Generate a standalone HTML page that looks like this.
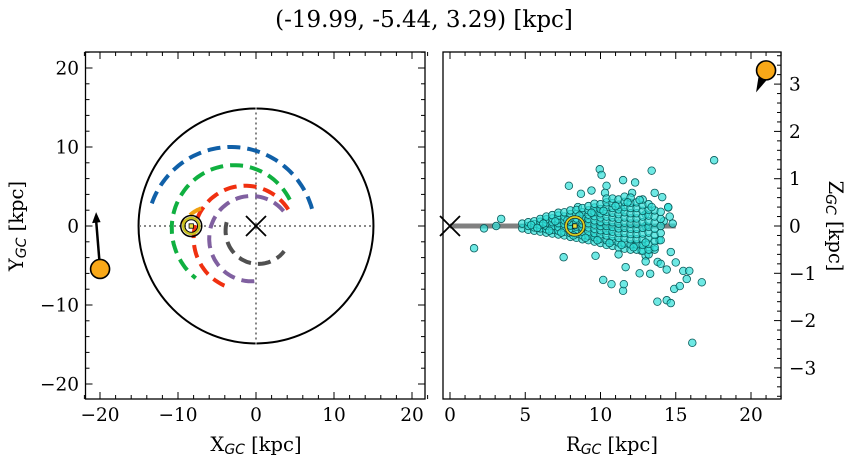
<!DOCTYPE html>
<html><head><meta charset="utf-8"><style>
html,body{margin:0;padding:0;background:#fff;}
svg{display:block;font-family:"DejaVu Serif","Liberation Serif",serif;}
</style></head><body>
<svg id="fig" width="854" height="464" viewBox="0 0 854 464" xmlns="http://www.w3.org/2000/svg">
<text x="424" y="27" font-size="23" text-anchor="middle">(-19.99, -5.44, 3.29) [kpc]</text>
<g id="left"></g>
<g id="right"></g>
</svg>
<script>
// ---- data ----
const leftTicks = [-20,-10,0,10,20];
const rightXTicks = [0,5,10,15,20];
const rightYTicks = [-3,-2,-1,0,1,2,3];
const sunXY = [-19.99,-5.44];
const sunArrowTip = [-20.5,1.5];
const gcSunX = -8.3;
const sunRZ = [21.0,3.29];
const solarR = 8.3;
const arcCx = [-3.2,-2.8,-1.4,-0.6,0.3,-5.5];
const arcCy = [-0.8,-0.3,-1.5,-1.6,-0.6,-2.0];
const arcR  = [10.8,8.0,6.6,5.4,4.2,4.5];
const arcA0 = [16,27,33,40,165,110];
const arcA1 = [163,232,253,282,322,150];
const arcColors = ["#1060a8","#10b040","#f03010","#8060a0","#505050","#f0a010"];
// scatter R, Z (outliers + halo)
const rVals = [17.55,9.95,10.07,13.4,7.9,11.5,12.3,9.4,8.7,10.4,13.6,14.1,14.5,3.4,2.26,3.07,1.6,7.55,9.67,10.18,10.73,11.5,11.67,11.55,12.6,13.3,13.78,14.4,14.67,14.9,15.27,15.73,16.73,16.1,14.4,15.0,15.5,15.9,13.8,13.0,13.3,13.6,12.7,14.67,13.9,14.5,14.8,12.8,13.2,13.0,
9.0,9.8,10.6,11.4,12.2,13.0,8.5,9.4,10.3,11.2,12.1,13.0,14.0,14.2,14.6];
const zVals = [1.39,1.2,1.08,1.17,0.85,0.97,0.92,0.75,0.68,0.85,0.70,0.61,0.39,0.15,-0.05,0.0,-0.47,-0.66,-0.63,-1.14,-1.23,-1.37,-0.87,-1.23,-1.0,-1.01,-1.6,-1.57,-1.63,-1.33,-1.27,-1.12,-1.19,-2.47,-0.92,-0.77,-0.95,-0.95,-0.76,-0.63,-0.5,-0.5,-0.52,-0.55,-0.3,0.4,0.05,-0.4,-0.6,-0.75,
0.1,0.3,-0.1,0.35,-0.4,0.25,0.4,-0.2,0.7,-0.6,0.7,0.0,-0.8,0.1,0.2];
// dense core R, Z
const coreR = [4.8,4.8,5.2,5.2,5.2,5.6,5.6,5.6,5.6,6.0,6.0,6.0,6.0,6.0,
6.4,6.4,6.4,6.4,6.4,6.4,6.8,6.8,6.8,6.8,6.8,6.8,7.2,7.2,7.2,7.2,7.2,7.2,7.2,
7.6,7.6,7.6,7.6,7.6,7.6,7.6,8.0,8.0,8.0,8.0,8.0,8.0,8.0,8.0,
8.4,8.4,8.4,8.4,8.4,8.4,8.4,8.4,8.8,8.8,8.8,8.8,8.8,8.8,8.8,8.8,8.8,
9.2,9.2,9.2,9.2,9.2,9.2,9.2,9.2,9.2,9.6,9.6,9.6,9.6,9.6,9.6,9.6,9.6,9.6,9.6,
10.0,10.0,10.0,10.0,10.0,10.0,10.0,10.0,10.0,10.0,10.4,10.4,10.4,10.4,10.4,10.4,10.4,10.4,10.4,10.4,10.4,
10.8,10.8,10.8,10.8,10.8,10.8,10.8,10.8,10.8,10.8,10.8,11.2,11.2,11.2,11.2,11.2,11.2,11.2,11.2,11.2,11.2,11.2,
11.6,11.6,11.6,11.6,11.6,11.6,11.6,11.6,11.6,11.6,11.6,12.0,12.0,12.0,12.0,12.0,12.0,12.0,12.0,12.0,12.0,12.0,
12.4,12.4,12.4,12.4,12.4,12.4,12.4,12.4,12.4,12.4,12.8,12.8,12.8,12.8,12.8,12.8,12.8,12.8,12.8,12.8,
13.2,13.2,13.2,13.2,13.2,13.2,13.2,13.2,13.2,13.6,13.6,13.6,13.6,13.6,13.6,13.6,14.0,14.0,14.0,14.0,14.0,
5.4,5.8,6.2,6.6,7.0,7.4,7.8,8.2,8.6,9.0,9.4,9.8,10.2,10.6,11.0,11.4,11.8,12.2,12.6,13.0,13.4];
const coreZ = [-0.05,0.05,-0.08,0.0,0.08,-0.1,-0.03,0.04,0.1,-0.12,-0.05,0.02,0.09,0.15,
-0.14,-0.07,0.0,0.07,0.14,0.2,-0.16,-0.08,0.0,0.08,0.16,0.23,-0.18,-0.1,-0.02,0.06,0.14,0.22,0.28,
-0.2,-0.12,-0.04,0.04,0.12,0.2,0.29,-0.23,-0.15,-0.07,0.01,0.09,0.17,0.25,0.33,
-0.25,-0.17,-0.09,-0.01,0.08,0.16,0.25,0.34,-0.28,-0.2,-0.12,-0.04,0.04,0.12,0.2,0.29,0.38,
-0.3,-0.21,-0.12,-0.03,0.06,0.15,0.24,0.33,0.42,-0.33,-0.24,-0.15,-0.06,0.03,0.12,0.21,0.3,0.39,0.47,
-0.36,-0.27,-0.18,-0.09,0.0,0.09,0.18,0.27,0.36,0.46,-0.4,-0.3,-0.2,-0.1,0.0,0.1,0.2,0.3,0.4,0.5,0.58,
-0.42,-0.32,-0.22,-0.12,-0.02,0.08,0.18,0.28,0.38,0.48,0.58,-0.45,-0.35,-0.25,-0.15,-0.05,0.05,0.15,0.25,0.35,0.45,0.56,
-0.48,-0.37,-0.26,-0.15,-0.04,0.07,0.18,0.29,0.4,0.51,0.62,-0.5,-0.39,-0.28,-0.17,-0.06,0.05,0.16,0.27,0.38,0.49,0.6,
-0.5,-0.39,-0.28,-0.17,-0.06,0.05,0.16,0.27,0.38,0.5,-0.52,-0.4,-0.28,-0.16,-0.04,0.08,0.2,0.32,0.44,0.56,
-0.5,-0.38,-0.26,-0.14,-0.02,0.1,0.22,0.34,0.46,-0.45,-0.32,-0.19,-0.06,0.07,0.2,0.33,-0.3,-0.15,0.0,0.15,0.3,
0.02,-0.04,0.05,-0.1,0.1,-0.14,0.12,-0.2,0.22,-0.25,0.28,-0.3,0.32,-0.36,0.42,-0.4,0.5,-0.45,0.55,-0.35,0.4];

const NS="http://www.w3.org/2000/svg";
function mk(parent,tag,attrs){const e=document.createElementNS(NS,tag);for(const k in attrs)e.setAttribute(k,attrs[k]);parent.appendChild(e);return e;}

// ---- left panel ----
const L={x0:85.5,x1:425,y0:52,y1:399};
const lx=v=>256+v*7.8, ly=v=>226-v*7.9;
const gl=document.getElementById('left');
const gc=mk(gl,'circle',{cx:lx(0),cy:ly(0),r:15*7.83,fill:'none',stroke:'#000','stroke-width':2});


const hl=mk(gl,'line',{x1:lx(-15),x2:lx(15),y1:ly(0),y2:ly(0),stroke:'#777','stroke-width':1.8,'stroke-dasharray':'2 3'});


const vl=mk(gl,'line',{x1:lx(0),x2:lx(0),y1:ly(15),y2:ly(-15),stroke:'#777','stroke-width':1.8,'stroke-dasharray':'2 3'});


for(let i=0;i<arcR.length;i++){
  let d='';const n=60;
  for(let k=0;k<=n;k++){const a=(arcA0[i]+(arcA1[i]-arcA0[i])*k/n)*Math.PI/180;
    const px=lx(arcCx[i]+arcR[i]*Math.cos(a)),py=ly(arcCy[i]+arcR[i]*Math.sin(a));d+=(k?'L':'M')+px.toFixed(1)+' '+py.toFixed(1);}
  const p=mk(gl,'path',{d:d,fill:'none',stroke:arcColors[i],'stroke-width':4,'stroke-dasharray':'13 7'});
  
  
}
function cross(g,x,y,s,name){const c=mk(g,'path',{d:`M${x-s} ${y-s}L${x+s} ${y+s}M${x-s} ${y+s}L${x+s} ${y-s}`,stroke:'#000','stroke-width':1.8});

}
cross(gl,lx(0),ly(0),10,'galactic-center-marker');
function sunMark(g,x,y,name,outer){const s=mk(g,'g',{});


if(outer){mk(s,'circle',{cx:x,cy:y,r:10.5,fill:'none',stroke:'#000','stroke-width':1.5});
mk(s,'circle',{cx:x,cy:y,r:8,fill:'none',stroke:'#c8c020','stroke-width':2.5});
mk(s,'circle',{cx:x,cy:y,r:6.3,fill:'none',stroke:'#000','stroke-width':1});}
else{mk(s,'circle',{cx:x,cy:y,r:9,fill:'none',stroke:'#222','stroke-width':3.2});
mk(s,'circle',{cx:x,cy:y,r:9,fill:'none',stroke:'#d8d020','stroke-width':1.8});}
mk(s,'rect',{x:x-2.2,y:y-2.2,width:4.4,height:4.4,fill:'#e8e040',stroke:'#000','stroke-width':0.8});}
sunMark(gl,lx(gcSunX),ly(0),'sun-marker-xy',true);
const ar=mk(gl,'g',{});


const ax0=lx(sunXY[0]),ay0=ly(sunXY[1]),ax1=lx(sunArrowTip[0]),ay1=ly(sunArrowTip[1]);
mk(ar,'line',{x1:ax0,y1:ay0,x2:ax1,y2:ay1+6,stroke:'#000','stroke-width':2.5});
mk(ar,'path',{d:`M${ax1} ${ay1-2}L${ax1-4} ${ay1+9}L${ax1+4.5} ${ay1+8}Z`,fill:'#000'});
const so=mk(gl,'circle',{cx:ax0,cy:ay0,r:9.5,fill:'#f8a818',stroke:'#000','stroke-width':1.6});



function frame(g,b,name){const r=mk(g,'rect',{x:b.x0,y:b.y0,width:b.x1-b.x0,height:b.y1-b.y0,fill:'none',stroke:'#000','stroke-width':1.3});

}
frame(gl,L,'xy-frame');
for(let v=-22;v<=22;v+=2){const maj=v%10===0;const t=maj?7:4;
  const x=lx(v);mk(gl,'line',{x1:x,x2:x,y1:L.y1,y2:L.y1-t,stroke:'#000','stroke-width':1});mk(gl,'line',{x1:x,x2:x,y1:L.y0,y2:L.y0+t,stroke:'#000','stroke-width':1});
  const y=ly(v);if(y>L.y0&&y<L.y1){mk(gl,'line',{x1:L.x0,x2:L.x0+t,y1:y,y2:y,stroke:'#000','stroke-width':1});mk(gl,'line',{x1:L.x1,x2:L.x1-t,y1:y,y2:y,stroke:'#000','stroke-width':1});}}
const fmt=v=>v<0?'\u2212'+Math.abs(v):String(v);
leftTicks.forEach(v=>{
  const tx=mk(gl,'text',{x:lx(v),y:421,'font-size':18.5,'text-anchor':'middle'});tx.textContent=fmt(v);
  
  
  const ty=mk(gl,'text',{x:79,y:ly(v)+6.5,'font-size':18.5,'text-anchor':'end'});ty.textContent=fmt(v);
  
  
});
const xl=mk(gl,'text',{x:256,y:451,'font-size':19.5,'text-anchor':'middle'});
xl.innerHTML='X<tspan font-family="DejaVu Sans,sans-serif" font-style="italic" font-size="14" dy="3">GC</tspan><tspan dy="-3"> [kpc]</tspan>';


const yl=mk(gl,'text',{x:0,y:0,'font-size':19.5,'text-anchor':'middle',transform:'translate(23,226) rotate(-90)'});
yl.innerHTML='Y<tspan font-family="DejaVu Sans,sans-serif" font-style="italic" font-size="14" dy="3">GC</tspan><tspan dy="-3"> [kpc]</tspan>';



// ---- right panel ----
const R={x0:443,x1:781,y0:52,y1:399};
const rx=v=>450+v*15.05, ry=v=>226-v*47.3;
const gr=document.getElementById('right');
const dl=mk(gr,'line',{x1:rx(0),x2:rx(15),y1:ry(0),y2:ry(0),stroke:'#808080','stroke-width':5});


function pt(r,z){const c=mk(gr,'circle',{cx:rx(r),cy:ry(z),r:3.8,fill:'#30e0d8','fill-opacity':0.7,stroke:'#0a5a5a','stroke-width':0.8});
  
  }
for(let i=0;i<rVals.length;i++) pt(rVals[i],zVals[i]);
for(let i=0;i<coreR.length;i++) pt(coreR[i],coreZ[i]);
cross(gr,rx(0),ry(0),10,'galactic-center-marker-rz');
sunMark(gr,rx(solarR),ry(0),'sun-marker-rz',false);
const sx=rx(sunRZ[0]),sy=ry(sunRZ[1]);
const tail=mk(gr,'path',{d:`M${sx-7} ${sy+3}L${sx-10} ${sy+22}L${sx+3} ${sy+7}Z`,fill:'#000'});


const so2=mk(gr,'circle',{cx:sx,cy:sy,r:9.5,fill:'#f8a818',stroke:'#000','stroke-width':1.6});


frame(gr,R,'rz-frame');
for(let v=0;v<=22;v+=1){const t=v%5===0?7:4;const x=rx(v);
  mk(gr,'line',{x1:x,x2:x,y1:R.y1,y2:R.y1-t,stroke:'#000','stroke-width':1});mk(gr,'line',{x1:x,x2:x,y1:R.y0,y2:R.y0+t,stroke:'#000','stroke-width':1});}
for(let k=-18;k<=18;k++){const v=k*0.2;const y=ry(v);if(y<=R.y0||y>=R.y1)continue;const t=k%5===0?7:4;
  mk(gr,'line',{x1:R.x1,x2:R.x1-t,y1:y,y2:y,stroke:'#000','stroke-width':1});}
rightXTicks.forEach(v=>{const t=mk(gr,'text',{x:rx(v),y:421,'font-size':18.5,'text-anchor':'middle'});t.textContent=fmt(v);
  
  });
rightYTicks.forEach(v=>{const t=mk(gr,'text',{x:789,y:ry(v)+6.5,'font-size':18.5,'text-anchor':'start'});t.textContent=fmt(v);
  
  });
const rl=mk(gr,'text',{x:612,y:451,'font-size':19.5,'text-anchor':'middle'});
rl.innerHTML='R<tspan font-family="DejaVu Sans,sans-serif" font-style="italic" font-size="14" dy="3">GC</tspan><tspan dy="-3"> [kpc]</tspan>';


const zl=mk(gr,'text',{x:0,y:0,'font-size':19.5,'text-anchor':'middle',transform:'translate(829,226) rotate(90)'});
zl.innerHTML='Z<tspan font-family="DejaVu Sans,sans-serif" font-style="italic" font-size="14" dy="3">GC</tspan><tspan dy="-3"> [kpc]</tspan>';


</script>
</body></html>
